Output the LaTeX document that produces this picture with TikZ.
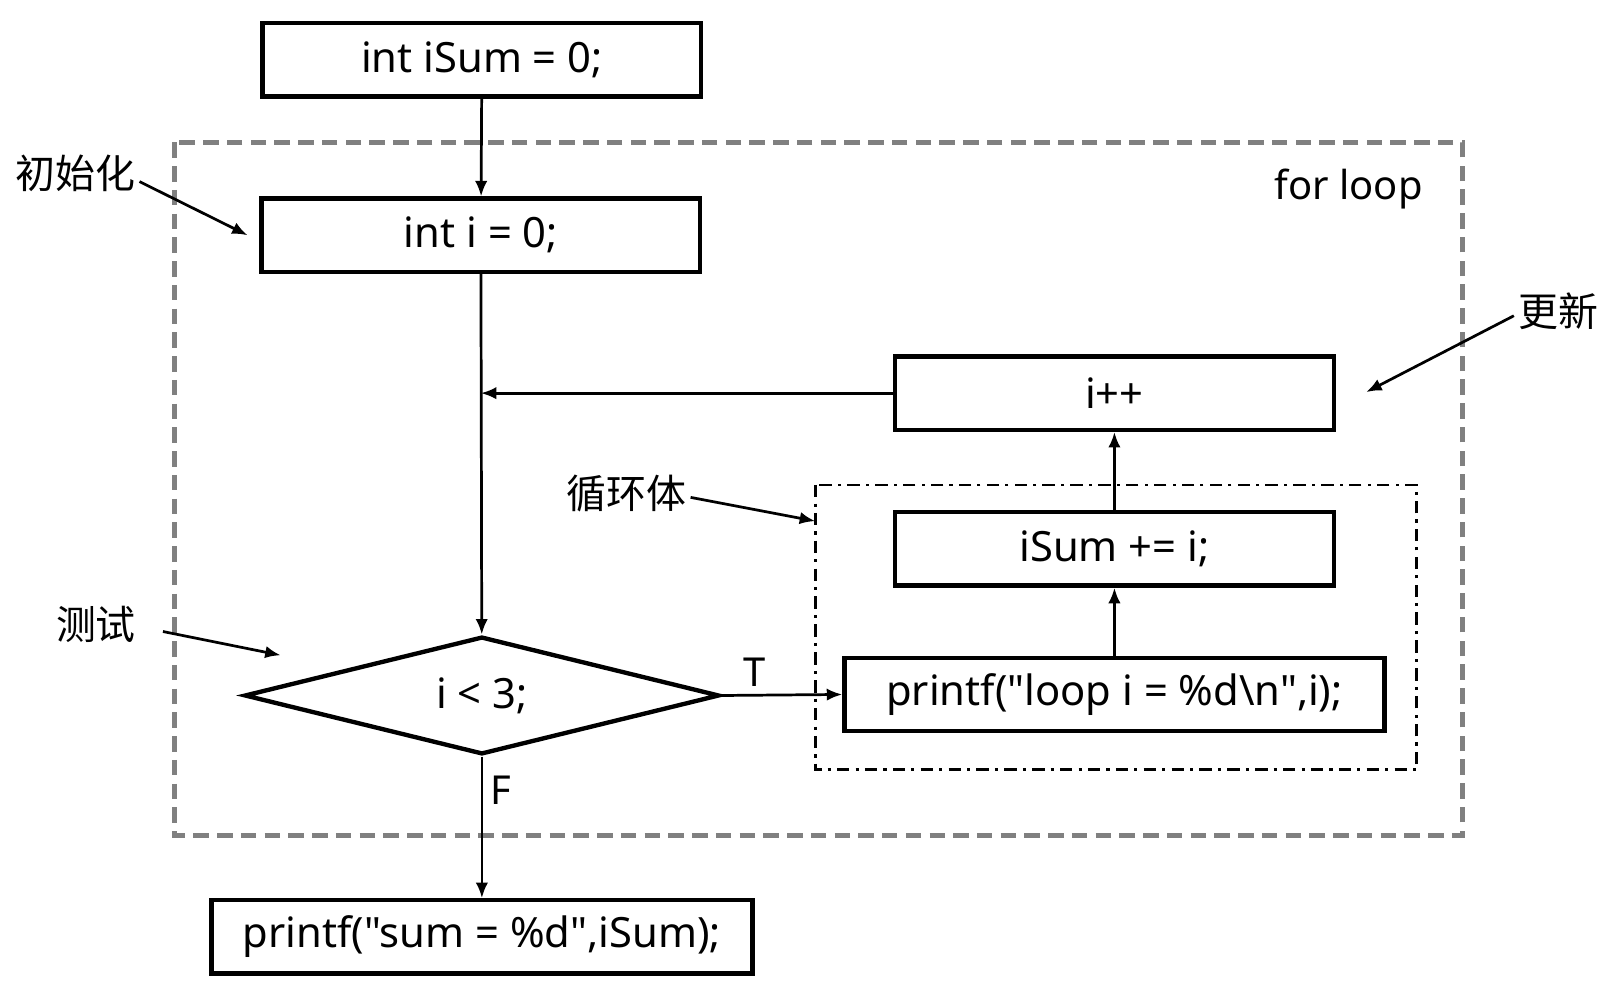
\documentclass[tikz,border=0pt]{standalone}
\usepackage{fontspec}
\setmainfont{Noto Sans}
\newfontfamily\codefont{Noto Sans}
\newfontfamily\cjkfont{Noto Sans CJK SC}
\usepackage{xcolor}
\usepackage{tikz}
\usetikzlibrary{shapes.geometric,arrows.meta}
\definecolor{ink}{HTML}{000000}
\definecolor{frame}{HTML}{808080}
\tikzset{
  stmt/.style={draw=ink, line width=1.2pt, rectangle, inner sep=0pt,
    minimum width=4.25cm, minimum height=0.71cm, font=\codefont\fontsize{11.5}{14}\selectfont},
  test/.style={draw=ink, line width=1.2pt, diamond, inner sep=0pt, aspect=4,
    minimum width=4.6cm, minimum height=1.14cm, font=\codefont\fontsize{11.5}{14}\selectfont},
  flow/.style={draw=ink, line width=0.75pt, -{Latex[length=1.5mm,width=1.2mm]}},
  note/.style={font=\cjkfont\fontsize{11}{13}\selectfont, inner sep=1pt},
  branch/.style={font=\codefont\fontsize{11}{13}\selectfont, inner sep=2pt},
  forframe/.style={draw=frame, line width=1.35pt, dash pattern=on 0.15cm off 0.08cm},
  bodyframe/.style={draw=ink, line width=0.8pt, dash pattern=on 0.12cm off 0.06cm on 0.03cm off 0.06cm}
}
\begin{document}
\begin{tikzpicture}[x=0.01cm,y=-0.01cm]
  \useasboundingbox (0,0) rectangle (1568,957.5);
  % frames
  \draw[forframe] (169,138) rectangle (1417,810);
  \draw[bodyframe] (790,470) rectangle (1373,746);
  \node[branch, font=\codefont\fontsize{11}{13}\selectfont] (fornote) at (1307,183) {for loop};

  % statements
  \node[stmt] (sum0) at (467,58) {int iSum = 0;};
  \node[stmt] (init) at (466,228) {int i = 0;};
  \node[stmt] (inc) at (1080,381) {i++};
  \node[stmt] (body) at (1080,532) {iSum += i;};
  \node[stmt, minimum width=5.23cm] (loopout) at (1080,673) {printf("loop i = \%d\textbackslash n",i);};
  \node[test] (cond) at (467,674) {i < 3;};
  \node[stmt, minimum width=5.24cm] (sumout) at (467,908) {printf("sum = \%d",iSum);};

  % flow
  \draw[flow] (sum0) -- (init);
  \draw[flow] (init) -- (cond);
  \draw[flow] (inc.west) -- (init.south |- inc.west);
  \draw[flow] (cond.east) -- node[branch, above, pos=0.27] {T} (loopout.west);
  \draw[flow] (loopout) -- (body);
  \draw[flow] (body) -- (inc);
  \draw[flow] (cond.south) -- node[branch, right, pos=0.24] {F} (sumout.north);

  % notes
  \node[note] (initnote) at (73,168) {初始化};
  \coordinate (initend) at (240,228);
  \draw[flow] ([yshift=-0.08cm]initnote.east) -- (initend);
  \node[note] (incnote) at (1510,302) {更新};
  \coordinate (incend) at (1324,380);
  \draw[flow] ([yshift=-0.04cm]incnote.west) -- (incend);
  \node[note] (bodynote) at (607,478) {循环体};
  \coordinate (bodyend) at (790,505);
  \draw[flow] ([yshift=-0.04cm]bodynote.east) -- (bodyend);
  \node[note] (testnote) at (93,605) {测试};
  \coordinate (testend) at (272,635);
  \draw[flow] ([xshift=0.22cm,yshift=-0.07cm]testnote.east) -- (testend);
\end{tikzpicture}
\end{document}
